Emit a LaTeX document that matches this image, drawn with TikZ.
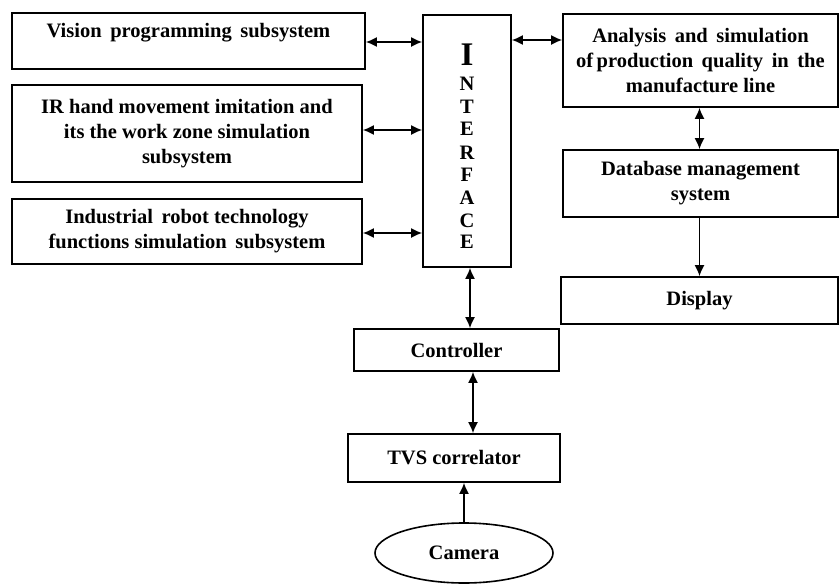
\documentclass[tikz,border=0pt]{standalone}
\usepackage{fontspec}
\setmainfont{Liberation Serif}
\usetikzlibrary{arrows.meta,shapes.geometric}
\begin{document}
\begin{tikzpicture}[x=1pt,y=-1pt,
  box/.style={draw,line width=1.6pt,rectangle,inner sep=0pt,align=center,
    font=\fontsize{20.5}{25}\selectfont\bfseries},
  lbl/.style={align=center,inner sep=0pt,font=\fontsize{20.5}{25}\selectfont\bfseries},
  arr/.style={line width=1.6pt,-{Latex[length=11pt,width=10pt]}},
  darr/.style={line width=1.6pt,{Latex[length=11pt,width=10pt]}-{Latex[length=11pt,width=10pt]}}]
\useasboundingbox (0,0) rectangle (839,584);
% left boxes
\node[box,minimum width=353pt,minimum height=56pt] (vis) at (188.5,41) {};
\node[lbl] (vist) at ([yshift=8pt]vis.center) {Vision\, programming\, subsystem};
\node[box,minimum width=350pt,minimum height=97pt] (ir) at (187,133.5) {IR hand movement imitation and\\its the work zone simulation\\subsystem};
\node[box,minimum width=350pt,minimum height=65pt] (ind) at (187,231.5) {Industrial\, robot technology\\functions simulation\, subsystem};
% interface
\node[box,minimum width=88pt,minimum height=252pt] (iface) at (467,141) {};
\node[lbl,font=\fontsize{33}{33}\selectfont\bfseries] (L0) at (467,55) {I};
\foreach \l/\yy [count=\i] in {N/84,T/107,E/129,R/153,F/175,A/198,C/221,E/242}
  \node[lbl] (L\i) at (467,\yy) {\l};
% right boxes
\node[box,minimum width=275pt,minimum height=93pt] (ana) at (700.5,60.5) {Analysis\, and\, simulation\\of\,production\, quality\, in\, the\\manufacture line};
\node[box,minimum width=275pt,minimum height=67pt] (db) at (700.5,183.5) {Database management\\system};
\node[box,minimum width=277pt,minimum height=47pt] (disp) at (699.5,300.5) {Display};
% bottom chain
\node[box,minimum width=205pt,minimum height=42pt] (ctrl) at (456.5,350) {Controller};
\node[box,minimum width=212pt,minimum height=48pt] (tvs) at (454,458) {TVS correlator};
\node[draw,line width=1.6pt,ellipse,minimum width=178pt,minimum height=60pt,inner sep=0pt,
  font=\fontsize{20.5}{25}\selectfont\bfseries] (cam) at (464,553) {Camera};
% connectors
\coordinate (a1) at (0,42);
\coordinate (a2) at (0,130);
\coordinate (a3) at (0,233);
\coordinate (a4) at (0,40);
\draw[darr] (vis.east |- a1) -- (iface.west |- a1);
\draw[darr] (ir.east |- a2) -- (iface.west |- a2);
\draw[darr] (ind.east |- a3) -- (iface.west |- a3);
\draw[darr] (iface.east |- a4) -- (ana.west |- a4);
\draw[darr] ([xshift=-1pt]ana.south) -- ([xshift=-1pt]ana.south |- db.north);
\draw[arr] ([xshift=-1pt]db.south) -- ([xshift=-1pt]db.south |- disp.north);
\draw[darr] ([xshift=3pt]iface.south) -- ([xshift=3pt]iface.south |- ctrl.north);
\draw[darr] ([xshift=16.5pt]ctrl.south) -- ([xshift=16.5pt]ctrl.south |- tvs.north);
\draw[arr] (cam.north) -- (cam.north |- tvs.south);
\end{tikzpicture}
\end{document}
